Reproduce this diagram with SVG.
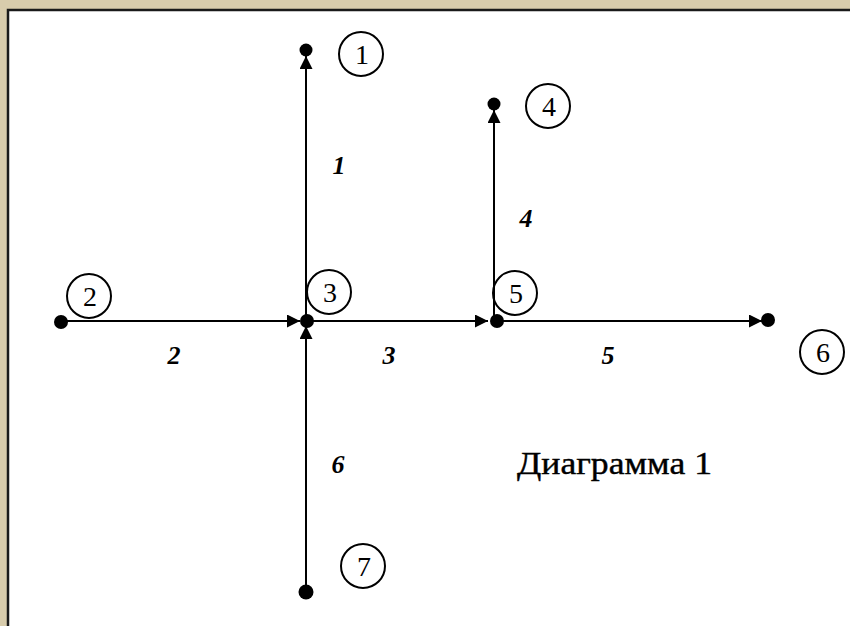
<svg xmlns="http://www.w3.org/2000/svg" width="850" height="626" viewBox="0 0 850 626">
<style>
.e{stroke:#000;stroke-width:2;fill:none}
.d{fill:#000}
.c{fill:none;stroke:#000;stroke-width:2}
.n{font-family:"Liberation Serif",serif;font-size:28px;fill:#000;text-anchor:middle}
.l{font-family:"Liberation Serif",serif;font-size:26px;font-weight:bold;font-style:italic;fill:#000;text-anchor:middle}
.t{font-family:"Liberation Serif",serif;font-size:31px;fill:#000;stroke:#000;stroke-width:0.4}
</style>
<defs>
<marker id="a" viewBox="0 0 10 10" refX="10" refY="5" markerWidth="6.5" markerHeight="6.5" orient="auto" markerUnits="strokeWidth">
<path d="M0,0 L10,5 L0,10 Z" fill="#000"/>
</marker>
</defs>
<rect x="0" y="0" width="850" height="626" fill="#d8ccac"/>
<rect x="8" y="10" width="846" height="620" fill="#fff" stroke="#1a1a1a" stroke-width="2.5"/>
<g id="connectors">
<line class="e" x1="306" y1="321" x2="306" y2="56" marker-end="url(#a)"/>
<line class="e" x1="61" y1="321" x2="300" y2="321" marker-end="url(#a)"/>
<line class="e" x1="306" y1="321" x2="488" y2="321" marker-end="url(#a)"/>
<line class="e" x1="494" y1="321" x2="494" y2="110" marker-end="url(#a)"/>
<line class="e" x1="495" y1="321" x2="762" y2="321" marker-end="url(#a)"/>
<line class="e" x1="306" y1="592" x2="306" y2="326" marker-end="url(#a)"/>
<text class="l" x="339" y="174">1</text>
<text class="l" x="174" y="364">2</text>
<text class="l" x="389" y="364">3</text>
<text class="l" x="526" y="227">4</text>
<text class="l" x="608" y="364">5</text>
<text class="l" x="338" y="473">6</text>
</g>
<g id="node1"><circle class="d" cx="306" cy="50" r="6.5"/><circle class="c" cx="361" cy="54" r="22"/><text class="n" x="362" y="64">1</text></g>
<g id="node2"><circle class="d" cx="61" cy="322" r="7"/><circle class="c" cx="89" cy="296" r="22"/><text class="n" x="90" y="306">2</text></g>
<g id="node3"><circle class="d" cx="307" cy="321" r="7"/><circle class="c" cx="329" cy="292" r="22"/><text class="n" x="330" y="302">3</text></g>
<g id="node4"><circle class="d" cx="494" cy="104" r="6.5"/><circle class="c" cx="548" cy="106" r="22"/><text class="n" x="549" y="116">4</text></g>
<g id="node5"><circle class="d" cx="497" cy="321" r="7"/><circle class="c" cx="515" cy="293" r="22"/><text class="n" x="516" y="303">5</text></g>
<g id="node6"><circle class="d" cx="768" cy="320" r="7"/><circle class="c" cx="822" cy="352" r="22"/><text class="n" x="823" y="362">6</text></g>
<g id="node7"><circle class="d" cx="306" cy="592" r="7.5"/><circle class="c" cx="363" cy="566" r="22"/><text class="n" x="364" y="576">7</text></g>
<g id="caption"><text class="t" x="517" y="474" textLength="195" lengthAdjust="spacingAndGlyphs">Диаграмма 1</text></g>
</svg>
